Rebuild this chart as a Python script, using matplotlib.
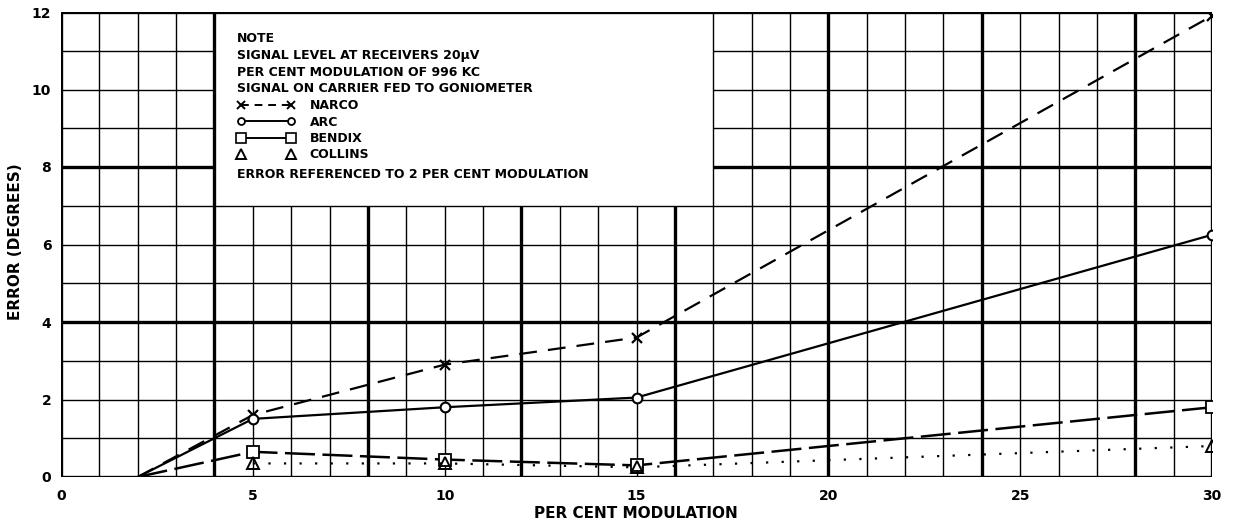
import matplotlib
matplotlib.use("Agg")
import matplotlib.pyplot as plt
from matplotlib.lines import Line2D
from matplotlib.patches import Rectangle
import numpy as np

# Error vs modulation per receiver (referenced to 2 per cent modulation)
mod_pct = [2, 5, 10, 15, 30]
narco_err = [0, 1.6, 2.9, 3.6, 11.9]
arc_err = [0, 1.5, 1.8, 2.05, 6.25]
bendix_err = [0, 0.65, 0.45, 0.3, 1.8]
collins_pct = [5, 10, 15, 30]
collins_err = [0.35, 0.35, 0.25, 0.8]

x_ticks = [0, 5, 10, 15, 20, 25, 30]
y_ticks = [0, 2, 4, 6, 8, 10, 12]

note_lines = [
    "NOTE",
    "SIGNAL LEVEL AT RECEIVERS 20µV",
    "PER CENT MODULATION OF 996 KC",
    "SIGNAL ON CARRIER FED TO GONIOMETER",
]
footer_note = "ERROR REFERENCED TO 2 PER CENT MODULATION"

plt.rcParams['font.family'] = ['DejaVu Sans']
plt.rcParams['font.weight'] = 'bold'

W, H = 1240, 525
fig = plt.figure(figsize=(W / 100, H / 100), dpi=100)
ax = fig.add_axes([61 / W, 48 / H, 1151 / W, 465 / H])
ax.set_xlim(0, 30)
ax.set_ylim(0, 12)

# graph paper: light line every unit, heavy every 4
# the note box (x 4..17, y 7..12) blanks the grid, its edges stay on top
box_x0, box_x1, box_y0 = 4, 17, 7
for v in range(0, 31):
    heavy = v % 4 == 0 or v == 30
    edge = v in (box_x0, box_x1)
    ax.axvline(v, color='black', lw=2.4 if heavy else 1.0, zorder=3 if edge else 1)
for v in range(0, 13):
    heavy = v % 4 == 0
    edge = v in (box_y0, 12)
    ax.axhline(v, color='black', lw=2.4 if heavy else 1.0, zorder=3 if edge else 1)

ax.add_patch(Rectangle((box_x0, box_y0), box_x1 - box_x0, 12 - box_y0,
                       facecolor='white', edgecolor='none', zorder=2))

ax.plot(mod_pct, narco_err, color='black', lw=1.6, ls=(0, (8, 5)),
        marker='x', ms=7, mew=1.6, markevery=[1, 2, 3, 4], zorder=4)
ax.plot(mod_pct, arc_err, color='black', lw=1.6, ls='-',
        marker='o', ms=7, mfc='white', mew=1.5, markevery=[1, 2, 3, 4], zorder=4)
ax.plot(mod_pct, bendix_err, color='black', lw=1.8, ls=(0, (12, 3)),
        marker='s', ms=8, mfc='white', mew=1.3, markevery=[1, 2, 3, 4], zorder=4)
ax.plot(collins_pct, collins_err, color='black', lw=1.6, ls=(0, (1, 6)),
        marker='^', ms=9, mfc='none', mew=1.4, zorder=5)

for s in ax.spines.values():
    s.set_visible(False)

ax.set_xticks(x_ticks)
ax.set_xticklabels([str(t) for t in x_ticks])
ax.set_yticks(y_ticks)
ax.set_yticklabels([str(t) for t in y_ticks])
ax.tick_params(length=0, labelsize=10)
ax.tick_params(axis='x', pad=9)
ax.tick_params(axis='y', pad=7)

fig.text(636 / W, 1 - 514 / H, "PER CENT MODULATION", fontsize=11,
         fontweight='bold', ha='center', va='center')
fig.text(16 / W, 1 - 242 / H, "ERROR (DEGREES)", fontsize=11,
         fontweight='bold', ha='center', va='center', rotation=90)

# note block
def fy(py):
    return (477 - py) / 465

tx = (237 - 61) / 1151
for py, line in zip([39, 56, 73, 89], note_lines):
    ax.text(tx, fy(py), line, transform=ax.transAxes, fontsize=9,
            fontweight='bold', va='center', ha='left', zorder=6)
ax.text(tx, fy(174), footer_note, transform=ax.transAxes, fontsize=9,
        fontweight='bold', va='center', ha='left', zorder=6)

handles = [
    Line2D([], [], color='black', lw=1.4, ls=(0, (4, 3)), marker='x', ms=6, mew=1.4),
    Line2D([], [], color='black', lw=1.4, ls='-', marker='o', ms=5, mfc='white', mew=1.3),
    Line2D([], [], color='black', lw=1.4, ls='-', marker='s', ms=7, mfc='white', mew=1.2),
    Line2D([], [], color='none', marker='^', ms=7, mfc='none', mec='black', mew=1.4),
]
labels = ["NARCO", "ARC", "BENDIX", "COLLINS"]
leg = ax.legend(handles, labels, loc='upper left', bbox_to_anchor=(tx, fy(99)),
                bbox_transform=ax.transAxes, frameon=False, numpoints=2,
                fontsize=9, handlelength=4.6, handletextpad=1.2,
                labelspacing=0.28, borderpad=0, borderaxespad=0)
leg.set_zorder(6)

fig.savefig("out.png", dpi=100, facecolor='white')
